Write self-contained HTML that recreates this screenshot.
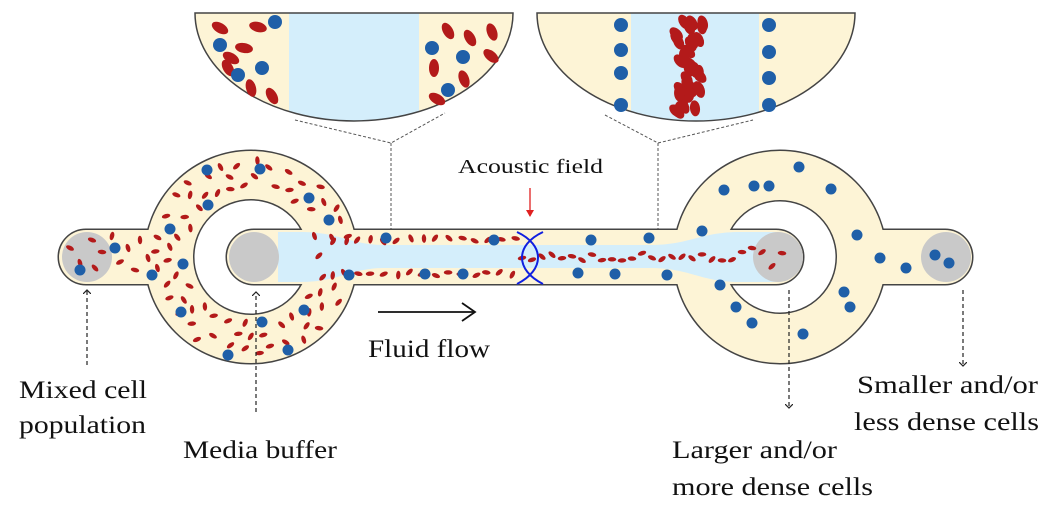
<!DOCTYPE html>
<html><head><meta charset="utf-8"><style>
html,body{margin:0;padding:0;background:#fff;}
svg{display:block;}
text{font-family:"Liberation Serif",serif;fill:#111;}
</style></head><body>
<svg id="s" width="1062" height="520" viewBox="0 0 1062 520" xmlns="http://www.w3.org/2000/svg">
<defs>
<marker id="ah" markerWidth="8" markerHeight="8" refX="4" refY="4" orient="auto" markerUnits="userSpaceOnUse"><path d="M0,0 L4,4 L0,8" fill="none" stroke="#222" stroke-width="1.2"/></marker>
<marker id="ra" markerWidth="8" markerHeight="8" refX="6" refY="4" orient="auto" markerUnits="userSpaceOnUse"><path d="M0,0 L7,4 L0,8 z" fill="#e02020"/></marker>
<clipPath id="in1"><path d="M195,13 L513,13 A159,108 0 0 1 195,13 z"/></clipPath>
<clipPath id="in2"><path d="M537,13 L855,13 A159,108 0 0 1 537,13 z"/></clipPath>
</defs>

<g clip-path="url(#in1)">
<rect x="190" y="10" width="330" height="120" fill="#fdf4d6"/>
<rect x="289" y="10" width="130" height="120" fill="#d4eefb"/>
</g>
<path d="M195,13 L513,13 A159,108 0 0 1 195,13 z" fill="none" stroke="#444" stroke-width="1.5"/>
<g clip-path="url(#in2)">
<rect x="530" y="10" width="330" height="120" fill="#fdf4d6"/>
<rect x="631" y="10" width="128" height="120" fill="#d4eefb"/>
</g>
<path d="M537,13 L855,13 A159,108 0 0 1 537,13 z" fill="none" stroke="#444" stroke-width="1.5"/>
<g id="insetcells"></g>

<g stroke="#555" stroke-width="1" stroke-dasharray="3,2" fill="none">
<path d="M295,120 L391,143 L445,113 M391,143 L391,284"/>
<path d="M605,115 L658,143 L753,120 M658,143 L658,284"/>
</g>

<g id="dev" stroke="#444" stroke-width="3" fill="#fdf4d6"></g>
<g id="devf" fill="#fdf4d6"></g>
<path d="M278,232 L300,232 C340,232 350,245 385,245 L515,245 L545,245 L650,245 C690,245 700,232 740,232 L776,232 L776,282 L740,282 C700,282 690,268 650,268 L385,268 C350,268 340,282 300,282 L278,282 z" fill="#d4eefb"/>
<circle cx="87" cy="257" r="25" fill="#c9c9c9"/>
<circle cx="254" cy="257" r="25" fill="#c9c9c9"/>
<circle cx="778" cy="257" r="25" fill="#c9c9c9"/>
<circle cx="946" cy="257" r="25" fill="#c9c9c9"/>
<g id="cells"></g>

<path d="M517,232 C545,245 545,270 517,284 M543,232 C515,245 515,270 543,284" stroke="#1020e0" stroke-width="2" fill="none"/>
<line x1="530" y1="188" x2="530" y2="216" stroke="#e02020" stroke-width="1.3" marker-end="url(#ra)"/>
<text x="458" y="173" font-size="20" textLength="145" lengthAdjust="spacingAndGlyphs">Acoustic field</text>

<line x1="378" y1="312" x2="474" y2="312" stroke="#111" stroke-width="1.8"/>
<path d="M462,303 L475,312 L462,321" fill="none" stroke="#111" stroke-width="1.8"/>
<text x="368" y="357" font-size="25" textLength="122" lengthAdjust="spacingAndGlyphs">Fluid flow</text>

<g stroke="#222" stroke-width="1.2" stroke-dasharray="4,3" fill="none">
<line x1="87" y1="365" x2="87" y2="290" marker-end="url(#ah)"/>
<line x1="256" y1="412" x2="256" y2="292" marker-end="url(#ah)"/>
<line x1="789" y1="290" x2="789" y2="408" marker-end="url(#ah)"/>
<line x1="963" y1="290" x2="963" y2="366" marker-end="url(#ah)"/>
</g>
<g font-size="25">
<text x="19" y="398" textLength="128" lengthAdjust="spacingAndGlyphs">Mixed cell</text>
<text x="19" y="433" textLength="127" lengthAdjust="spacingAndGlyphs">population</text>
<text x="183" y="458" textLength="154" lengthAdjust="spacingAndGlyphs">Media buffer</text>
<text x="672" y="458" textLength="165" lengthAdjust="spacingAndGlyphs">Larger and/or</text>
<text x="672" y="495" textLength="201" lengthAdjust="spacingAndGlyphs">more dense cells</text>
<text x="857" y="393" textLength="181" lengthAdjust="spacingAndGlyphs">Smaller and/or</text>
<text x="854" y="430" textLength="185" lengthAdjust="spacingAndGlyphs">less dense cells</text>
</g>
</svg>
<script>
(function(){
var NS="http://www.w3.org/2000/svg";
function el(p,t,a){var e=document.createElementNS(NS,t);for(var k in a)e.setAttribute(k,a[k]);p.appendChild(e);return e;}
var dev=document.getElementById('dev'),devf=document.getElementById('devf');
var shapes=[
 ['path',{d:"M86,230 L165,230 L165,284 L86,284 A27,27 0 0 1 86,230 z"}],
 ['path',{d:"M251,151 A106,106 0 1 1 251,363 A106,106 0 1 1 251,151 z M251,199 A58,58 0 1 0 251,315 A58,58 0 1 0 251,199 z","fill-rule":"evenodd"}],
 ['path',{d:"M780,151 A106,106 0 1 1 780,363 A106,106 0 1 1 780,151 z M780,200 A57,57 0 1 0 780,314 A57,57 0 1 0 780,200 z","fill-rule":"evenodd"}],
 ['path',{d:"M254,230 L776,230 A27,27 0 0 1 776,284 L254,284 A27,27 0 0 1 254,230 z"}],
 ['path',{d:"M865,230 L945,230 A27,27 0 0 1 945,284 L865,284 z"}]
];
shapes.forEach(function(s){el(dev,s[0],s[1]);el(devf,s[0],Object.assign({},s[1]));});
var seed=7;function r(){seed=(seed*16807)%2147483647;return seed/2147483647;}
var c=document.getElementById('cells');
var RED="#b31a1a",BLUE="#1f5fa8";
function red(x,y,rot,g){g=g||c;el(g,'ellipse',{cx:x,cy:y,rx:4.3,ry:2.2,fill:RED,transform:"rotate("+rot+" "+x+" "+y+")"});}
function blue(x,y,g,rr){el(g||c,'circle',{cx:x,cy:y,r:rr||5.5,fill:BLUE});}
var pts=[],n=0,tries=0;
while(n<75&&tries<8000){tries++;var x=140+r()*225,y=150+r()*215;var d=Math.hypot(x-251,y-257);
 if(d<66||d>99)continue; if(x>320&&y>238&&y<276)continue;
 var ok=true;for(var j=0;j<pts.length;j++){if(Math.hypot(pts[j][0]-x,pts[j][1]-y)<12){ok=false;break;}}
 if(!ok)continue;pts.push([x,y]);red(x,y,r()*180);n++;}
[[70,248],[80,263],[92,240],[95,268],[102,252],[112,236],[120,262],[128,248],[135,270],[140,240],[148,258]].forEach(function(p){red(p[0],p[1],r()*180);});
[[207,170],[260,169],[208,205],[309,198],[329,220],[170,229],[183,264],[152,275],[181,312],[304,310],[262,322],[228,355],[288,350],[115,248]].forEach(function(p){blue(p[0],p[1]);});
blue(80,270);
for(var x=330;x<515;x+=13){red(x+r()*4,238+r()*4,r()*180);red(x+r()*4,276-r()*4,r()*180);}
[[386,238],[349,275],[425,274],[463,274],[494,240]].forEach(function(p){blue(p[0],p[1]);});
for(var x=522;x<790;x+=10){var y=257+(r()-0.5)*(x>740?20:8);red(x,y,r()*90-45);}
[[591,240],[649,238],[578,273],[615,274],[667,275],[702,231],[720,285]].forEach(function(p){blue(p[0],p[1]);});
[[799,167],[724,190],[754,186],[769,186],[831,189],[857,235],[880,258],[906,268],[844,292],[850,307],[736,307],[752,323],[803,334]].forEach(function(p){blue(p[0],p[1]);});
blue(935,255);blue(949,263);
var g=document.getElementById('insetcells');
[[220,28,30],[258,27,15],[244,48,10],[231,58,30],[228,68,60],[251,88,75],[272,96,60],[448,31,60],[470,38,60],[492,32,70],[491,56,40],[434,68,90],[464,79,70],[437,99,30]].forEach(function(p){el(g,'ellipse',{cx:p[0],cy:p[1],rx:9,ry:5,fill:RED,transform:"rotate("+p[2]+" "+p[0]+" "+p[1]+")"});});
[[275,22],[220,45],[238,75],[262,68],[432,48],[463,57],[448,90]].forEach(function(p){blue(p[0],p[1],g,7);});
[[621,25],[621,50],[621,73],[621,105],[769,25],[769,52],[769,78],[769,105]].forEach(function(p){blue(p[0],p[1],g,7);});
for(var i=0;i<34;i++){var x=676+r()*28,y=22+r()*92;el(g,'ellipse',{cx:x,cy:y,rx:8,ry:5,fill:RED,transform:"rotate("+(40+r()*60)+" "+x+" "+y+")"});}
})();
</script>
</body></html>
